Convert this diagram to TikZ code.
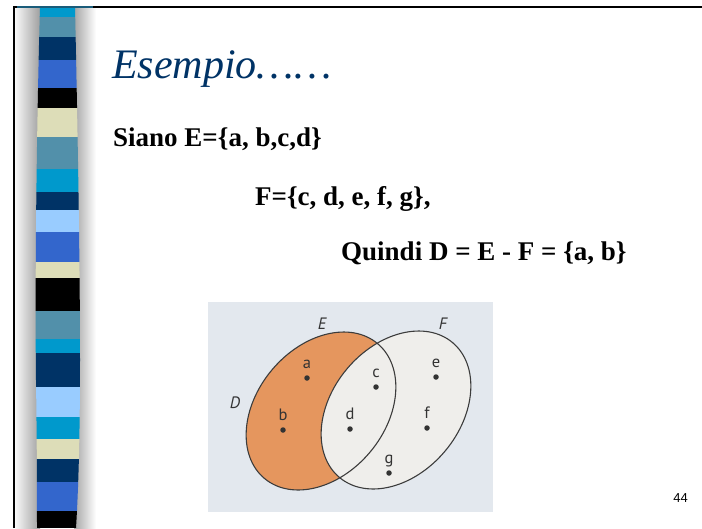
\documentclass[tikz,border=0pt]{standalone}
\usepackage{fontspec}
\setmainfont{Liberation Serif}
\newfontfamily\vennfont{PT Sans}
\newfontfamily\numfont{Liberation Sans}
\definecolor{navy}{HTML}{003366}
\definecolor{sbcyan}{HTML}{0099CC}
\definecolor{sbsteel}{HTML}{5290AA}
\definecolor{sbroyal}{HTML}{3366CC}
\definecolor{sbbeige}{HTML}{DDDDB8}
\definecolor{sbsky}{HTML}{99CCFF}
\definecolor{sbtop}{HTML}{1A5C7A}
\definecolor{vennbg}{HTML}{E3E8EE}
\definecolor{orng}{HTML}{E5965E}
\definecolor{pale}{HTML}{EFEEEB}
\definecolor{rim}{HTML}{3C3C3C}
\usetikzlibrary{positioning}
\tikzset{setE/.style={rotate around={50:(cE)}},setF/.style={rotate around={50:(cF)}},oval/.style={x radius=88pt,y radius=64pt}}

\begin{document}
\begin{tikzpicture}[x=1pt,y=-1pt,ttl/.style={font=\fontsize{42}{42}\selectfont\itshape,text=navy,anchor=base west,inner sep=0},body/.style={font=\fontsize{27}{27}\selectfont\bfseries,anchor=base west,inner sep=0},dot/.style={circle,fill=black!80,inner sep=0,minimum size=5.5pt},lbl/.style={font=\vennfont\fontsize{16.5}{16.5}\selectfont,text=black!80,anchor=base,inner sep=0},setname/.style={font=\vennfont\itshape\fontsize{16.5}{16.5}\selectfont,text=black!80,inner sep=0}]
\useasboundingbox (0,0) rectangle (702,528);
\fill[white] (0,0) rectangle (702,528);
\shade[left color=gray!5,right color=gray!75] (15,7) rectangle (40,528);
\shade[left color=gray!70,right color=white] (74,7) rectangle (96,528);
\begin{scope}
\clip (40,7) .. controls (36,150) and (35,300) .. (36,380) .. controls (37,450) and (37,500) .. (37,528) -- (76,528) .. controls (79,480) and (80,420) .. (80,360) .. controls (80,250) and (77,100) .. (75,7) -- cycle;
\foreach \ya/\yb/\c in {7/17/sbcyan,17/37/sbsteel,37/60/navy,60/88/sbroyal,88/108/black,108/137/sbbeige,137/169/sbsteel,169/192/sbcyan,192/210/navy,210/232/sbsky,232/262/sbroyal,262/278/sbbeige,278/311/black,311/339/sbsteel,339/353/sbcyan,353/387/navy,387/417/sbsky,417/439/sbcyan,439/459/sbbeige,459/482/navy,482/511/sbroyal,511/528/black}{\fill[\c] (30,\ya) rectangle (90,\yb);}
\end{scope}
\draw[line width=2pt] (14,528) -- (14,6.5) -- (702,6.5);
\draw[line width=2pt,sbtop] (17,6.5) -- (93,6.5);
\node[ttl] (title) at (112,78) {Esempio……};
\node[body] (defE) at (113,146) {Siano E=\{a, b,c,d\}};
\node[body] (defF) at (255,205) {F=\{c, d, e, f, g\},};
\node[body] (diff) at (341,260) {Quindi D = E - F = \{a, b\}};
\fill[vennbg] (208,302) rectangle (493,512);
\coordinate (cE) at (321,411);
\coordinate (cF) at (396,410);
\fill[pale,setF] (cF) ellipse [oval];
\fill[orng,setE] (cE) ellipse [oval];
\begin{scope}
\clip[setF] (cF) ellipse [oval];
\fill[pale,setE] (cE) ellipse [oval];
\end{scope}
\draw[rim,line width=1.1pt,setE] (cE) ellipse [oval];
\draw[rim,line width=1.1pt,setF] (cF) ellipse [oval];
\node[setname] (nE) at (322,324) {E};
\node[setname] (nF) at (443,324) {F};
\node[setname] (nD) at (235,403) {D};
\foreach \n/\x/\y in {a/307/378,b/283/430,c/376/387,d/350/429,e/436/377,f/427/428,g/389/473}{\node[dot] (p\n) at (\x,\y) {};\node[lbl,above=10pt of p\n.center,anchor=base] (l\n) {\n};}
\node[font=\numfont\fontsize{13}{13}\selectfont,anchor=base east,inner sep=0] (pnum) at (688,502) {44};
\end{tikzpicture}
\end{document}
